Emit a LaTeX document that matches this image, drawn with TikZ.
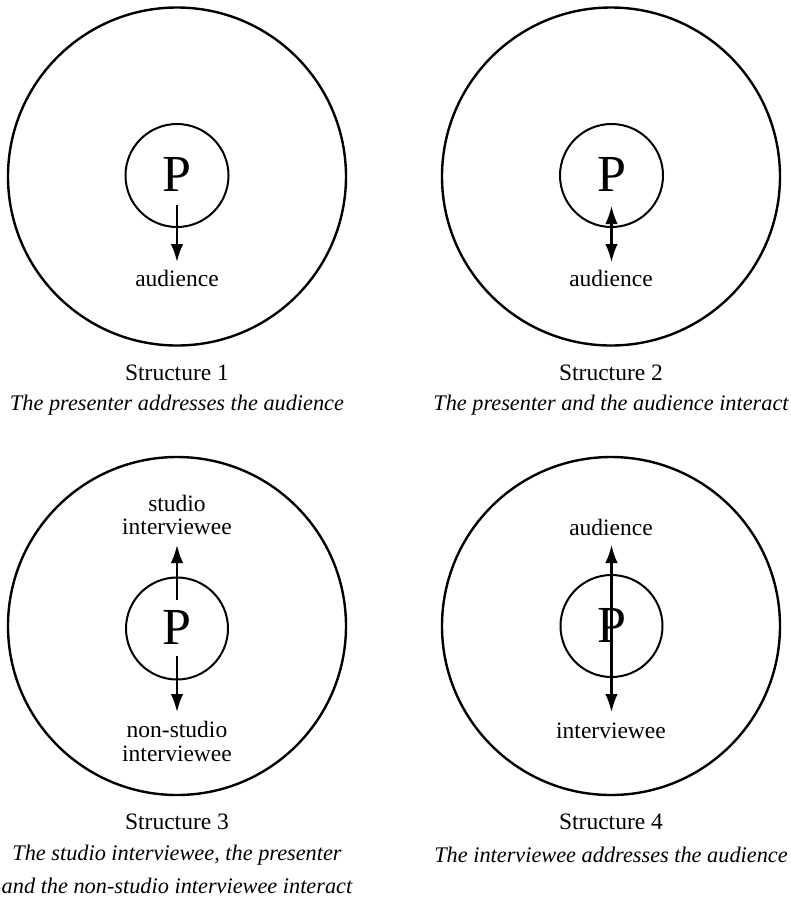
\documentclass[tikz,border=0pt]{standalone}
\usepackage{fontspec}
\setmainfont{Liberation Serif}
\usetikzlibrary{arrows.meta}
\tikzset{
  bigc/.style={draw, line width=2.4pt},
  smallc/.style={draw, line width=2pt},
  lbl/.style={inner sep=0pt, font=\fontsize{23.5}{27}\selectfont},
  pp/.style={inner sep=0pt, font=\fontsize{52}{56}\selectfont},
  captext/.style={inner sep=0pt, font=\fontsize{23.5}{27}\selectfont},
  icap/.style={inner sep=0pt, font=\fontsize{22.3}{31}\selectfont\itshape, align=center},
  arr/.style={line width=2.1pt, -{Latex[length=18pt,width=12.5pt]}},
  darr/.style={line width=2.1pt, {Latex[length=18pt,width=12.5pt]}-{Latex[length=18pt,width=12.5pt]}}
}
\begin{document}
\begin{tikzpicture}[x=1pt,y=-1pt]
\useasboundingbox (0,0) rectangle (791,898);
% Structure 1
\node[bigc, circle, minimum size=338pt] (b1) at (177,176.5) {};
\node[smallc, circle, minimum size=103pt] (s1) at (177,175.5) {};
\node[pp] (p1) at (177,174) {P};
\coordinate (t1) at (177,205);
\node[lbl] (a1) at (177,278) {audience};
\draw[arr] (t1) -- (177,262) coordinate (h1);
\node[captext] (c1) at (177,373) {Structure 1};
\node[icap] (d1) at (177,405) {The presenter addresses the audience};
% Structure 2
\node[bigc, circle, minimum size=338pt] (b2) at (611,176.5) {};
\node[smallc, circle, minimum size=103pt] (s2) at (611.5,175.5) {};
\node[pp] (p2) at (611.5,174) {P};
\coordinate (t2) at (611.5,206);
\coordinate (h2) at (611.5,262);
\draw[darr] (t2) -- (h2);
\node[lbl] (a2) at (611,278) {audience};
\node[captext] (c2) at (611,373) {Structure 2};
\node[icap] (d2) at (611,405) {The presenter and the audience interact};
% Structure 3
\node[bigc, circle, minimum size=338pt] (b3) at (177,626) {};
\node[smallc, circle, minimum size=102pt] (s3) at (177,628.5) {};
\node[pp] (p3) at (177,627) {P};
\node[lbl] (st3) at (177,503) {studio};
\node[lbl] (iv3) at (177,527) {interviewee};
\coordinate (u3a) at (177,600);
\coordinate (u3b) at (177,545);
\draw[arr] (u3a) -- (u3b);
\coordinate (d3a) at (177,656);
\coordinate (d3b) at (177,712);
\draw[arr] (d3a) -- (d3b);
\node[lbl] (ns3) at (177,729) {non-studio};
\node[lbl] (ni3) at (177,754) {interviewee};
\node[captext] (c3) at (177,822) {Structure 3};
\node[icap] (d3) at (177,855) {The studio interviewee, the presenter};
\node[icap] (e3) at (177,886) {and the non-studio interviewee interact};
% Structure 4
\node[bigc, circle, minimum size=338pt] (b4) at (611,626) {};
\node[smallc, circle, minimum size=102pt] (s4) at (611.5,626) {};
\node[pp] (p4) at (611.5,625) {P};
\coordinate (u4) at (611.5,545);
\coordinate (w4) at (611.5,712);
\draw[darr] (w4) -- (u4);
\node[lbl] (a4) at (611,527) {audience};
\node[lbl] (i4) at (611,731) {interviewee};
\node[captext] (c4) at (611,822) {Structure 4};
\node[icap] (d4) at (611,855) {The interviewee addresses the audience};
\end{tikzpicture}
\end{document}
